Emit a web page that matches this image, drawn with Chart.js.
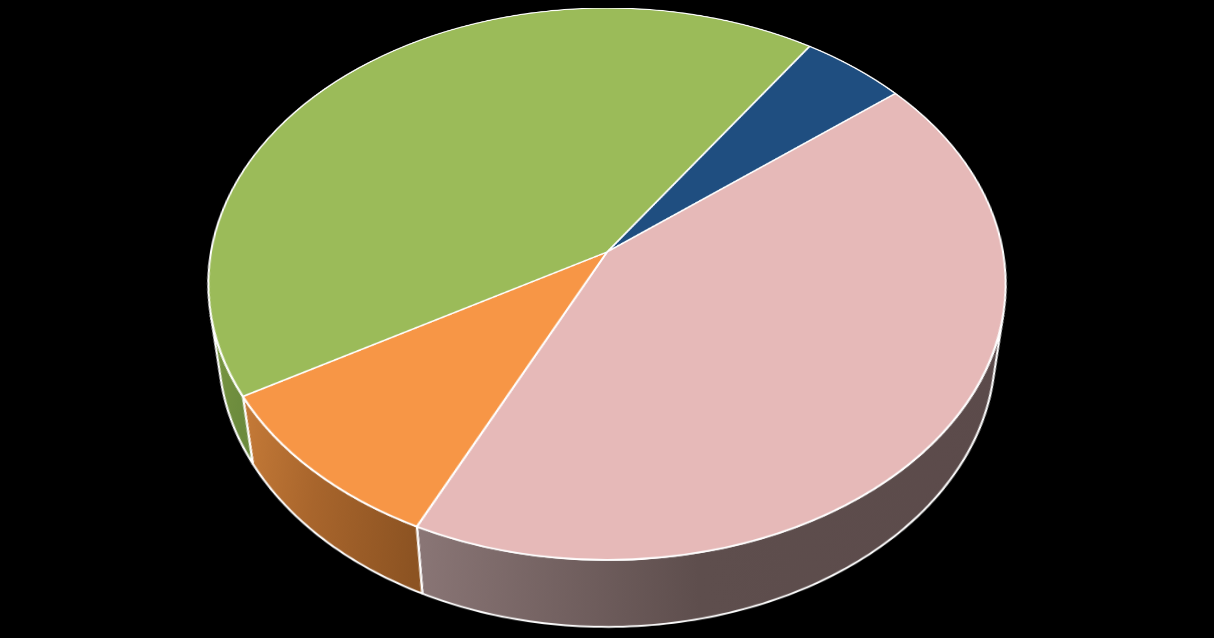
<!DOCTYPE html>
<html>
<head>
<meta charset="utf-8">
<script src="https://cdn.jsdelivr.net/npm/chart.js@4"></script>
<style>
  html, body { margin: 0; padding: 0; background: #000; overflow: hidden; }
  #wrap { position: relative; width: 1214px; height: 638px; overflow: hidden; }
  #pie3d {
    position: absolute; left: 0; top: -144px;
    transform-origin: 607px 396px;
    transform: perspective(2481px) rotateX(46.56deg);
  }
</style>
</head>
<body>
<div id="wrap"><canvas id="pie3d" width="1214" height="900"></canvas></div>
<script>
const categories = ["A", "B", "C", "D"];
const values = [4.8, 42.8, 9.6, 42.8];
const topColors = ["#1F4E80", "#E6B9B8", "#F79646", "#9BBB59"];
const wallColors = [
  ["#163a60", "#163a60", "#122f4e"],
  ["#8a7676", "#5e4e4d", "#5b4a4a"],
  ["#c67b38", "#a8652c", "#8c5322"],
  ["#7e9c4a", "#74923f", "#6c8b3d"]
];

// view settings, they must agree with the css transform of the canvas
const persp = 2481;
const tilt = 46.56 * Math.PI / 180;
const wallH = 95;
const cosT = Math.cos(tilt), sinT = Math.sin(tilt);

// point of the bottom rim under a top rim point, given back in canvas coords
// so that it lands in the right place once the canvas is tilted
function underPoint(X, Y) {
  const zd = persp - Y * sinT + wallH * cosT;
  const u = X * persp / zd;
  const v = (Y * cosT + wallH * sinT) * persp / zd;
  const Yc = v * persp / (persp * cosT + v * sinT);
  const Xc = u * (persp - Yc * sinT) / persp;
  return [Xc, Yc];
}

const wallPlugin = {
  id: "walls",
  beforeDatasetsDraw(chart) {
    const ctx = chart.ctx;
    const meta = chart.getDatasetMeta(0);
    meta.data.forEach((arc, i) => {
      const p = arc.getProps(["x", "y", "startAngle", "endAngle", "outerRadius"], true);
      const r = p.outerRadius;
      const a0 = Math.asin(Math.min(1, r / (persp * sinT)));
      for (let k = -1; k <= 2; k++) {
        const lo = Math.max(p.startAngle, k * 2 * Math.PI + a0);
        const hi = Math.min(p.endAngle, k * 2 * Math.PI + Math.PI - a0);
        if (hi <= lo) continue;
        const xa = p.x + r * Math.cos(hi), xb = p.x + r * Math.cos(lo);
        const g = ctx.createLinearGradient(Math.min(xa, xb), 0, Math.max(xa, xb), 0);
        g.addColorStop(0, wallColors[i][0]);
        g.addColorStop(0.45, wallColors[i][1]);
        g.addColorStop(1, wallColors[i][2]);
        ctx.save();
        ctx.beginPath();
        ctx.arc(p.x, p.y, r, lo, hi);
        const steps = Math.max(4, Math.ceil((hi - lo) * 60));
        for (let s = 0; s <= steps; s++) {
          const t = hi - (hi - lo) * s / steps;
          const q = underPoint(r * Math.cos(t), r * Math.sin(t));
          ctx.lineTo(p.x + q[0], p.y + q[1]);
        }
        ctx.closePath();
        ctx.fillStyle = g;
        ctx.fill();
        ctx.strokeStyle = "#ffffff";
        ctx.lineWidth = 2;
        ctx.lineJoin = "round";
        ctx.stroke();
        ctx.restore();
      }
    });
  }
};

new Chart(document.getElementById("pie3d"), {
  type: "pie",
  data: {
    labels: categories,
    datasets: [{
      data: values,
      backgroundColor: topColors,
      borderColor: "#ffffff",
      borderWidth: 2,
      hoverOffset: 0
    }]
  },
  options: {
    responsive: false,
    animation: false,
    rotation: 34.1,
    radius: 396,
    layout: { padding: { top: 0, bottom: 108, left: 0, right: 0 } },
    plugins: {
      legend: { display: false },
      tooltip: { enabled: false }
    },
    events: []
  },
  plugins: [wallPlugin]
});
</script>
</body>
</html>
